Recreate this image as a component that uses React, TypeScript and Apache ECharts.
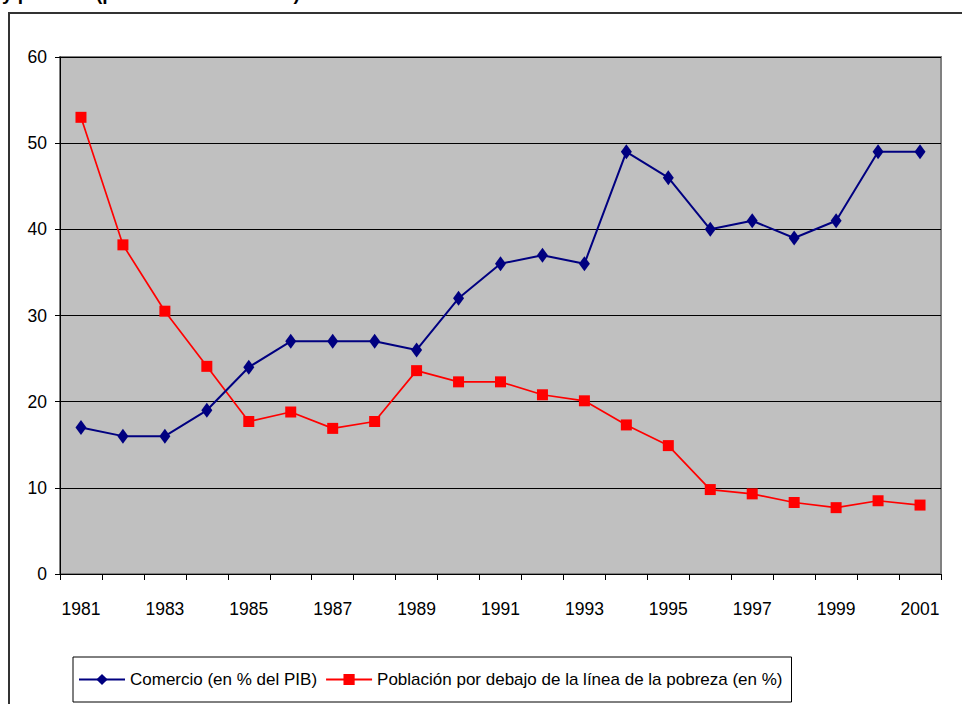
import React, { useEffect, useRef } from "react";
import * as echarts from "echarts";

const years = ["1981","1982","1983","1984","1985","1986","1987","1988","1989","1990","1991","1992","1993","1994","1995","1996","1997","1998","1999","2000","2001"];
const comercio = [17, 16, 16, 19, 24, 27, 27, 27, 26, 32, 36, 37, 36, 49, 46, 40, 41, 39, 41, 49, 49];
const pobreza = [53.0, 38.2, 30.5, 24.1, 17.7, 18.8, 16.9, 17.7, 23.6, 22.3, 22.3, 20.8, 20.1, 17.3, 14.9, 9.8, 9.3, 8.3, 7.7, 8.5, 8.0];
const seriesNames = ["Comercio (en % del PIB)", "Población por debajo de la línea de la pobreza (en %)"];
const titleText = "y pobreza (promedio anual en %)";

const FONT = '"Liberation Sans", Arial, sans-serif';

export default function App() {
  const ref = useRef<HTMLDivElement>(null);
  useEffect(() => {
    if (!ref.current) return;
    const chart = echarts.init(ref.current, undefined, { renderer: "svg" });
    chart.setOption({
      animation: false,
      backgroundColor: "#ffffff",
      textStyle: { fontFamily: FONT },
      graphic: [
        {
          type: "rect",
          shape: { x: 9, y: 13, width: 1000, height: 1000 },
          style: { fill: "none", stroke: "#333333", lineWidth: 2 },
          silent: true,
        },
        {
          type: "text",
          x: 2,
          y: 3,
          style: {
            text: titleText,
            font: `bold 19px ${FONT}`,
            fill: "#000",
            verticalAlign: "bottom",
            align: "left",
          },
          silent: true,
        },
      ],
      legend: {
        left: 73,
        top: 657,
        orient: "horizontal",
        data: seriesNames,
        borderColor: "#000",
        borderWidth: 1,
        padding: [14, 9, 14, 5],
        itemWidth: 46,
        itemHeight: 14,
        itemGap: 8,
        textStyle: { fontFamily: FONT, fontSize: 17, color: "#000" },
      },
      grid: {
        left: 60,
        top: 57,
        width: 881,
        height: 517,
        show: true,
        backgroundColor: "#C0C0C0",
        borderColor: "#808080",
        borderWidth: 2,
      },
      xAxis: {
        type: "category",
        data: years,
        boundaryGap: true,
        axisLine: { lineStyle: { color: "#000", width: 1 } },
        axisTick: { show: true, interval: 0, length: 6, lineStyle: { color: "#000" } },
        axisLabel: { interval: 1, margin: 26, fontSize: 17.5, color: "#000", fontFamily: FONT },
        splitLine: { show: false },
      },
      yAxis: {
        type: "value",
        min: 0,
        max: 60,
        interval: 10,
        axisLine: { show: true, lineStyle: { color: "#000", width: 1 } },
        axisTick: { show: true, length: 5, lineStyle: { color: "#000" } },
        axisLabel: { margin: 13, fontSize: 17.5, color: "#000", fontFamily: FONT },
        splitLine: { show: true, lineStyle: { color: "#000", width: 1 } },
      },
      series: [
        {
          name: seriesNames[0],
          type: "line",
          data: comercio,
          symbol: "diamond",
          symbolSize: [11, 15],
          lineStyle: { color: "#000080", width: 2 },
          itemStyle: { color: "#000080" },
          z: 3,
        },
        {
          name: seriesNames[1],
          type: "line",
          data: pobreza,
          symbol: "rect",
          symbolSize: 11,
          lineStyle: { color: "#FF0000", width: 1.7 },
          itemStyle: { color: "#FF0000" },
          z: 2,
        },
      ],
    });
    return () => chart.dispose();
  }, []);
  return (
    <div
      ref={ref}
      style={{ position: "fixed", left: 0, top: 0, width: 962, height: 704 }}
    />
  );
}
